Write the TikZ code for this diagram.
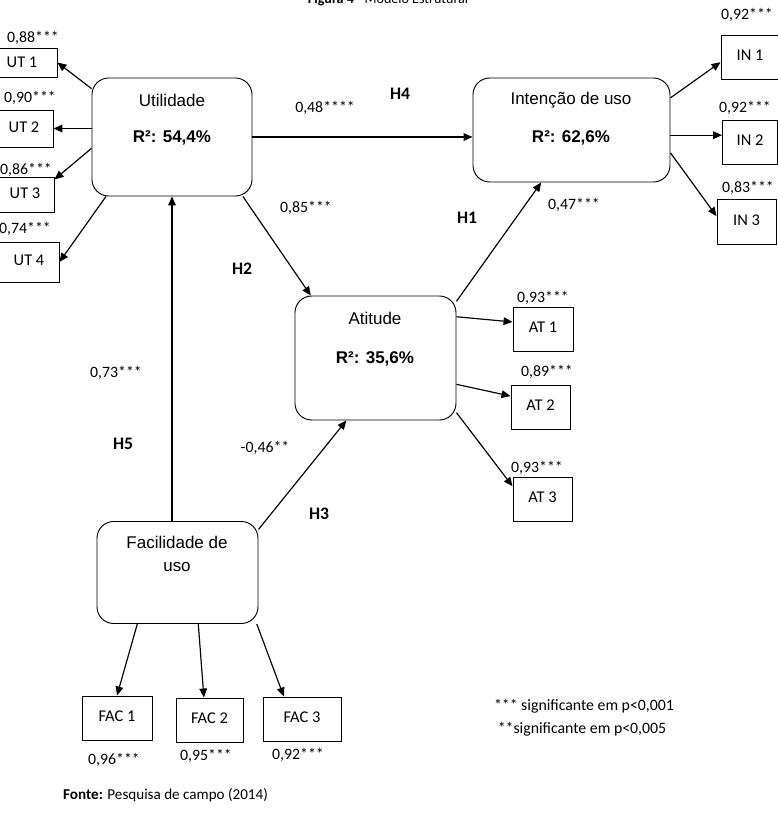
\documentclass[tikz,border=0pt]{standalone}
\usepackage{fontspec}
\setmainfont{Carlito}
\newfontfamily\arialf{Liberation Sans}
\usetikzlibrary{positioning,calc,arrows.meta}
\newdimen\pxu
\pxu=0.03cm

\begin{document}
\begin{tikzpicture}[x=\pxu, y=-\pxu,
		lv/.style={draw, rounded corners=0.5cm, line width=0.8pt},
		ind/.style={draw, line width=0.8pt, minimum width=59\pxu, minimum height=44\pxu, text depth=0.3em, font=\fontsize{14}{16}\selectfont},
		ctx/.style={font=\arialf\fontsize{14.5}{19.5}\selectfont, inner sep=0pt, align=center},
		ld/.style={font=\fontsize{13.5}{15}\selectfont, inner sep=0pt},
		hyp/.style={font=\bfseries\fontsize{15}{17}\selectfont, inner sep=0pt},
		arr/.style={-{Triangle[length=2.7mm, width=2.3mm]}, line width=1pt}
	]
	\useasboundingbox (0,0) rectangle (777,814);
	
	% titulo (cortado no topo)
	\node[anchor=base, inner sep=0pt, font=\fontsize{12}{14}\selectfont] (titulo) at (388,4) {\textbf{Figura 4} - Modelo Estrutural};
	
	% --- variaveis latentes ---
	\node[lv, minimum width=160\pxu, minimum height=118\pxu] (util) at (172,137) {};
	\node[ctx] (utilT) at (172,100) {Utilidade};
	\node[ctx] (utilR) at (172,138) {\textbf{R²: 54,4\%}};
	
	\node[lv, minimum width=197\pxu, minimum height=104\pxu] (intent) at (571.5,130) {};
	\node[ctx] (intentT) at (571,100) {Intenção de uso};
	\node[ctx] (intentR) at (571,138) {\textbf{R²: 62,6\%}};
	
	\node[lv, minimum width=161\pxu, minimum height=124\pxu] (atit) at (375.5,358) {};
	\node[ctx] (atitT) at (375,318) {Atitude};
	\node[ctx] (atitR) at (375,359) {\textbf{R²: 35,6\%}};
	
	\node[lv, minimum width=161\pxu, minimum height=102\pxu] (facil) at (177.5,572.5) {};
	\node[ctx] (facilT) at (177,554) {Facilidade de\\uso};
	
	% --- indicadores ---
	\node[ind, minimum width=70\pxu, minimum height=29\pxu, text depth=0pt] (ut1) at (22,62.5) {UT 1};
	\node[ind, minimum width=58\pxu, minimum height=37\pxu] (ut2) at (24,128.5) {UT 2};
	\node[ind, minimum width=58\pxu, minimum height=35\pxu] (ut3) at (25,194.5) {UT 3};
	\node[ind, minimum width=60\pxu, minimum height=40\pxu] (ut4) at (29,262) {UT 4};
	
	\node[ind, minimum width=58\pxu] (in1) at (750,57) {IN 1};
	\node[ind, minimum width=55\pxu] (in2) at (750,142) {IN 2};
	\node[ind, minimum height=45\pxu] (in3) at (746.5,221.5) {IN 3};
	
	\node[ind, minimum width=60\pxu] (at1) at (543,329) {AT 1};
	\node[ind] (at2) at (540.5,407) {AT 2};
	\node[ind] (at3) at (542.5,499) {AT 3};
	
	\node[ind, minimum width=70\pxu] (fac1) at (117,718) {FAC 1};
	\node[ind, minimum width=67\pxu] (fac2) at (209.5,720) {FAC 2};
	\node[ind, minimum width=78\pxu] (fac3) at (302,719) {FAC 3};
	
	% --- cargas ---
	\node[ld] (l_ut1) at (33,38) {0,88***};
	\node[ld] (l_ut2) at (30,98) {0,90***};
	\node[ld] (l_ut3) at (26,170) {0,86***};
	\node[ld] (l_ut4) at (25,229) {0,74***};
	\node[ld] (l_in1) at (747,15) {0,92***};
	\node[ld] (l_in2) at (745,108) {0,92***};
	\node[ld] (l_in3) at (748,188) {0,83***};
	\node[ld] (l_at1) at (543,298) {0,93***};
	\node[ld] (l_at2) at (547,372) {0,89***};
	\node[ld] (l_at3) at (537,468) {0,93***};
	\node[ld] (l_fac1) at (114,760) {0,96***};
	\node[ld] (l_fac2) at (206,756) {0,95***};
	\node[ld] (l_fac3) at (298,755) {0,92***};
	
	% --- coeficientes e hipoteses ---
	\node[ld] (c_h4) at (325,108) {0,48****};
	\node[ld] (c_h2) at (306,208) {0,85***};
	\node[ld] (c_h5) at (116,373) {0,73***};
	\node[ld] (c_h3) at (265,448) {-0,46**};
	\node[ld] (c_h1) at (574,205) {0,47***};
	\node[hyp] (h4) at (400,94) {H4};
	\node[hyp] (h2) at (242,269) {H2};
	\node[hyp] (h5) at (123,444) {H5};
	\node[hyp] (h3) at (319,514) {H3};
	\node[hyp] (h1) at (467,218) {H1};
	
	% --- setas ---
	\draw[arr] (util.149) -- (ut1.east);
	\draw[arr] (util.west |- ut2) -- (ut2.east);
	\draw[arr] (util.188) -- (ut3.27);
	\draw[arr] (util.222) -- (ut4.east);
	\draw[arr] (util.east) -- (util.east -| intent.west);
	\draw[arr] (util.320) -- (atit.136);
	\draw[arr] (util.south |- facil.north) -- (util.south);
	\draw[arr] (facil.28) -- (atit.245);
	\draw[arr] (atit.35) -- (intent.240);
	\draw[arr] (intent.18) -- (in1.190);
	\draw[arr] (intent.357) -- (intent.357 -| in2.west);
	\draw[arr] (intent.347) -- (in3.170);
	\draw[arr] (atit.27) -- (at1.167);
	\draw[arr] (atit.342) -- (at2.160);
	\draw[arr] (atit.326) -- (at3.157);
	\draw[arr] (facil.232) -- (fac1.north);
	\draw[arr] (facil.292) -- (fac2.104);
	\draw[arr] (facil.327) -- (fac3.129);
	
	% --- legenda ---
	\node[ld, font=\fontsize{13.5}{15}\selectfont] (leg1) at (584,706) {*** significante em p<0,001};
	\node[ld, font=\fontsize{13.5}{15}\selectfont] (leg2) at (582,729) {**significante em p<0,005};
	\node[anchor=west, inner sep=0pt, font=\fontsize{12.9}{14}\selectfont] (fonte) at (63,795) {\textbf{Fonte:} Pesquisa de campo (2014)};
\end{tikzpicture}
\end{document}
